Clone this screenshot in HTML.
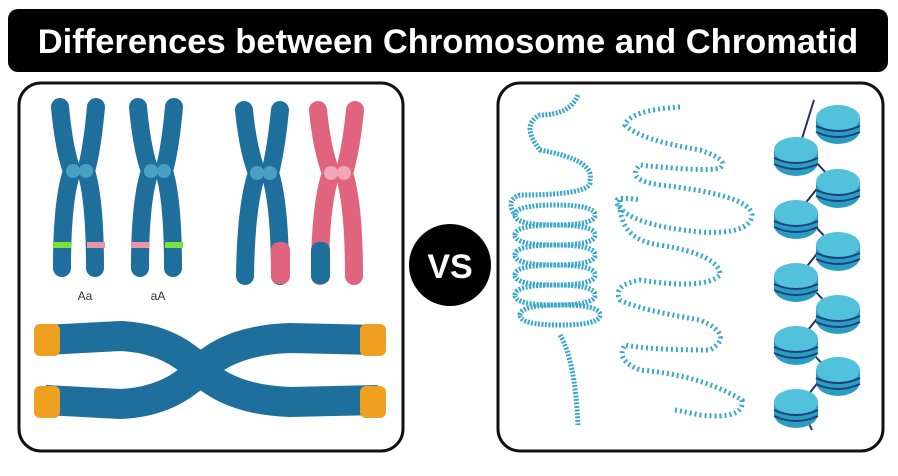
<!DOCTYPE html>
<html><head><style>
body{margin:0;background:#fff;width:898px;height:471px;overflow:hidden;font-family:"Liberation Sans",sans-serif}
</style></head><body>
<svg width="898" height="471" viewBox="0 0 898 471" xmlns="http://www.w3.org/2000/svg">
<defs>
 <g id="n"><ellipse cx="0" cy="12" rx="22" ry="14" fill="#2a9ec2"/><rect x="-22" y="0" width="44" height="12" fill="#2a9ec2"/><ellipse cx="0" cy="0" rx="22" ry="13" fill="#52c2dc"/><path d="M-22 8 Q0 18 22 8 M-22 14 Q0 24 22 14" stroke="#1e3f7a" stroke-width="2" fill="none"/></g>
</defs>
<rect x="8" y="9" width="880" height="63" rx="10" fill="#000"/>
<text x="448" y="53" text-anchor="middle" font-family="Liberation Sans" font-weight="bold" font-size="34.5" fill="#fff">Differences between Chromosome and Chromatid</text>
<rect x="19" y="83" width="384" height="368" rx="22" fill="#fff" stroke="#111" stroke-width="3"/>
<rect x="498" y="83" width="385" height="368" rx="22" fill="#fff" stroke="#111" stroke-width="3"/>
<circle cx="450" cy="265" r="41" fill="#000"/>
<text x="450" y="278" text-anchor="middle" font-weight="bold" font-size="34" fill="#fff">VS</text>
<g stroke-linecap="round" fill="none" stroke-width="18">
 <g stroke="#1e6f9c">
  <path d="M60 107 Q64 150 72 171 Q62 200 62 268"/><path d="M96 107 Q92 150 86 171 Q95 200 95 268"/>
  <path d="M138 107 Q142 150 150 171 Q140 200 140 268"/><path d="M174 107 Q170 150 164 171 Q173 200 173 268"/>
  <path d="M244 110 Q248 150 257 173 Q246 205 245 276"/><path d="M280 110 Q276 150 270 173 Q280 205 280 276"/>
 </g>
 <g stroke="#e0647e">
  <path d="M318 110 Q322 150 331 173 Q320 205 320 276"/><path d="M355 110 Q351 150 344 173 Q354 205 354 276"/>
 </g>
</g>
<rect x="271" y="242" width="19" height="42" rx="8" fill="#e0647e"/>
<rect x="311" y="242" width="19" height="42" rx="8" fill="#1e6f9c"/>
<rect x="53" y="242" width="18" height="6" fill="#7ee23a"/><rect x="87" y="242" width="18" height="6" fill="#ec95aa"/>
<rect x="131" y="242" width="18" height="6" fill="#ec95aa"/><rect x="165" y="242" width="18" height="6" fill="#7ee23a"/>
<g fill="#4aa0c4"><circle cx="73" cy="171" r="7"/><circle cx="86" cy="171" r="7"/><circle cx="151" cy="171" r="7"/><circle cx="164" cy="171" r="7"/><circle cx="257" cy="173" r="7"/><circle cx="270" cy="173" r="7"/></g>
<g fill="#f0a8b8"><circle cx="331" cy="173" r="7"/><circle cx="344" cy="173" r="7"/></g>
<text x="85" y="300" text-anchor="middle" font-size="12" fill="#333">Aa</text>
<text x="158" y="300" text-anchor="middle" font-size="12" fill="#333">aA</text>
<g fill="none" stroke-width="30">
 <path d="M45 340 L120 336 Q170 338 200 370 Q230 340 290 338 L378 340" stroke="#1e6f9c"/>
 <path d="M45 400 L120 404 Q170 402 200 370 Q230 400 290 402 L378 400" stroke="#1e6f9c"/>
</g>
<g fill="#f0a020"><rect x="34" y="324" width="26" height="32" rx="6"/><rect x="34" y="386" width="26" height="32" rx="6"/><rect x="360" y="324" width="26" height="32" rx="6"/><rect x="360" y="386" width="26" height="32" rx="6"/></g>
<g fill="none" stroke="#3aa8cc" stroke-width="5" stroke-dasharray="2 1.5">
 <path d="M578 95 Q570 115 540 115 Q520 125 540 150 Q595 160 590 180 Q595 195 520 195 Q505 200 515 215"/>
 <path d="M515 215 q0 -10 40 -10 t40 10 q0 10 -40 10 t-40 -10 M515 235 q0 -10 40 -10 t40 10 q0 10 -40 10 t-40 -10 M515 255 q0 -10 40 -10 t40 10 q0 10 -40 10 t-40 -10 M515 275 q0 -10 40 -10 t40 10 q0 10 -40 10 t-40 -10 M515 295 q0 -10 40 -10 t40 10 q0 10 -40 10 t-40 -10 M520 315 q0 -10 40 -10 t40 10 q0 10 -40 10 t-40 -10"/>
 <path d="M560 335 Q575 360 578 425"/>
</g>
<g fill="none" stroke="#3aa8cc" stroke-width="5" stroke-dasharray="2 3">
 <path d="M680 107 Q630 110 625 125 Q640 140 700 150 Q730 160 720 168 Q705 172 640 165 Q625 180 660 185 Q750 195 752 215 Q750 235 700 232 Q630 225 618 205 M618 205 Q610 195 640 200 M620 200 Q618 240 660 245 Q720 255 720 275 Q705 290 640 280 Q612 285 620 300 Q640 310 700 320 Q735 335 710 350 Q650 350 625 345 Q615 360 640 370 Q700 375 742 400 Q745 420 700 415 L675 410"/>
</g>
<path d="M814 100 L800 145 L828 175 L800 210 L828 240 L800 275 L828 305 L800 340 L828 370 L800 405 L812 430" stroke="#2a3060" stroke-width="2" fill="none"/>
<use href="#n" x="838" y="118"/><use href="#n" x="796" y="150"/><use href="#n" x="838" y="182"/><use href="#n" x="796" y="213"/><use href="#n" x="838" y="245"/><use href="#n" x="796" y="276"/><use href="#n" x="838" y="308"/><use href="#n" x="796" y="339"/><use href="#n" x="838" y="370"/><use href="#n" x="796" y="402"/>
</svg>
</body></html>
